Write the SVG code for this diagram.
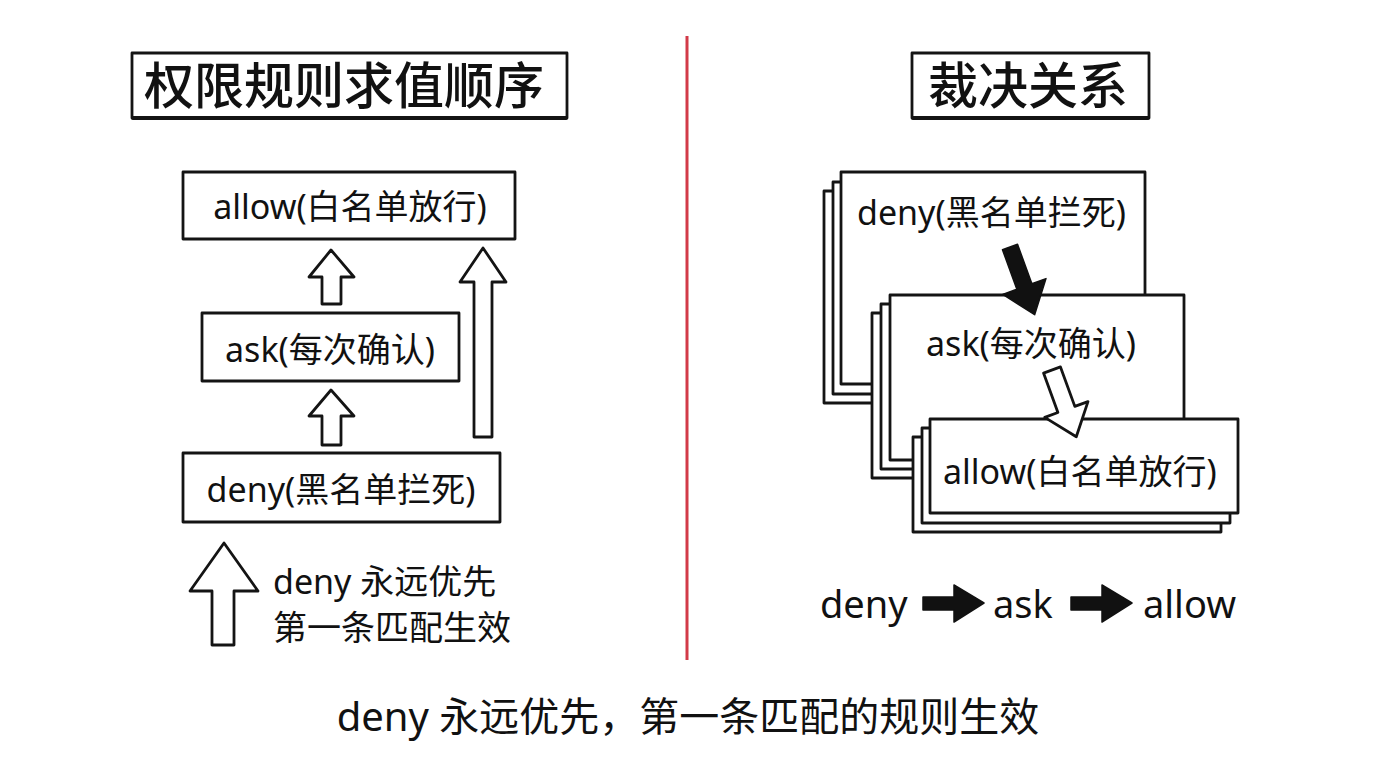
<svg xmlns="http://www.w3.org/2000/svg" width="1376" height="768" viewBox="0 0 1376 768">
<style>
.bg{fill:#ffffff}
.box{fill:#ffffff;stroke:#141414;stroke-width:2.8;stroke-linejoin:round}
.edge{fill:none;stroke:#141414;stroke-width:3.8;stroke-linecap:round}
.card{fill:#ffffff;stroke:#141414;stroke-width:2.8;stroke-linejoin:round}
.hollow{fill:#ffffff;stroke:#141414;stroke-width:2.8;stroke-linejoin:round}
.solid{fill:#111111;stroke:#111111;stroke-width:1.5;stroke-linejoin:round}
.title{font-family:'Noto Sans CJK SC','Noto Sans CJK JP',sans-serif;font-size:50px;font-weight:500;fill:#111}
.lbl{font-family:'Noto Sans','Noto Sans CJK SC',sans-serif;font-size:34px;fill:#111}
.big{font-family:'Noto Sans','Noto Sans CJK SC',sans-serif;font-size:38px;fill:#111}
.cap{font-family:'Noto Sans','Noto Sans CJK SC',sans-serif;font-size:40px;fill:#111}
</style>
<rect class="bg" x="0" y="0" width="1376" height="768"/>

<g id="divider">
<line x1="687" y1="36" x2="687" y2="660" stroke="#d23a48" stroke-width="3"/>
</g>

<g id="title-left">
<rect class="box" x="132" y="53" width="435" height="65"/>
<line class="edge" x1="133" y1="118" x2="566" y2="118"/>
<text class="title" x="344" y="104" text-anchor="middle">权限规则求值顺序</text>
</g>

<g id="title-right">
<rect class="box" x="912" y="53" width="237" height="65"/>
<line class="edge" x1="913" y1="118" x2="1148" y2="118"/>
<text class="title" x="1028" y="104" text-anchor="middle">裁决关系</text>
</g>

<g id="node-allow-left">
<rect class="box" x="183" y="172" width="332" height="67"/>
<text class="lbl" x="350" y="219" text-anchor="middle" font-size="35">allow(白名单放行)</text>
</g>
<g id="node-ask-left">
<rect class="box" x="202" y="313" width="257" height="68"/>
<text class="lbl" x="330" y="362" text-anchor="middle" font-size="35">ask(每次确认)</text>
</g>
<g id="node-deny-left">
<rect class="box" x="183" y="453" width="317" height="69"/>
<text class="lbl" x="341" y="502" text-anchor="middle" font-size="35">deny(黑名单拦死)</text>
</g>

<g id="legend-left">
<polygon class="hollow" points="224,543 258,591 234,591 234,645 212,645 212,591 190,591"/>
<text class="lbl" x="273" y="594" font-size="35">deny 永远优先</text>
<text class="lbl" x="273" y="640" font-size="35">第一条匹配生效</text>
</g>

<g id="node-deny-right">
<rect class="card" x="824" y="191" width="305" height="212"/>
<rect class="card" x="833" y="182" width="305" height="212"/>
<rect class="card" x="841" y="172" width="304" height="212"/>
<text class="lbl" x="857" y="225">deny(黑名单拦死)</text>
</g>
<g id="node-ask-right">
<rect class="card" x="872" y="313" width="295" height="165"/>
<rect class="card" x="881" y="304" width="295" height="165"/>
<rect class="card" x="890" y="295" width="294" height="165"/>
<text class="lbl" x="1031" y="356" text-anchor="middle">ask(每次确认)</text>
</g>
<g id="node-allow-right">
<rect class="card" x="913" y="437" width="308" height="95"/>
<rect class="card" x="922" y="428" width="308" height="95"/>
<rect class="card" x="930" y="419" width="308" height="94"/>
<text class="lbl" x="943" y="484" font-size="35">allow(白名单放行)</text>
</g>

<g id="connectors">
<polygon class="hollow" points="331,250 354,277 341,277 341,304 322,304 322,277 309,277"/>
<polygon class="hollow" points="331,390 354,416 341,416 341,445 322,445 322,416 309,416"/>
<polygon class="hollow" points="483,248 506,282 492,282 492,437 474,437 474,282 460,282"/>
<path class="solid" transform="translate(1010,247) rotate(-20)" d="M -8 0 L 8 0 L 8 42 L 23 42 L 0 72 L -23 42 L -8 42 Z"/>
<path class="hollow" transform="translate(1052,370) rotate(-20)" d="M -9 0 L 9 0 L 9 42 L 23 42 L 0 71 L -23 42 L -9 42 Z"/>
</g>

<g id="flow-right">
<text class="big" x="820" y="618">deny</text>
<polygon class="solid" points="923,597 954,597 954,585 984,603 954,622 954,610 923,610"/>
<text class="big" x="993" y="618">ask</text>
<polygon class="solid" points="1071,597 1102,597 1102,585 1132,603 1102,622 1102,610 1071,610"/>
<text class="big" x="1143" y="618">allow</text>
</g>

<g id="caption">
<text class="cap" x="688" y="731" text-anchor="middle">deny 永远优先，第一条匹配的规则生效</text>
</g>
</svg>
